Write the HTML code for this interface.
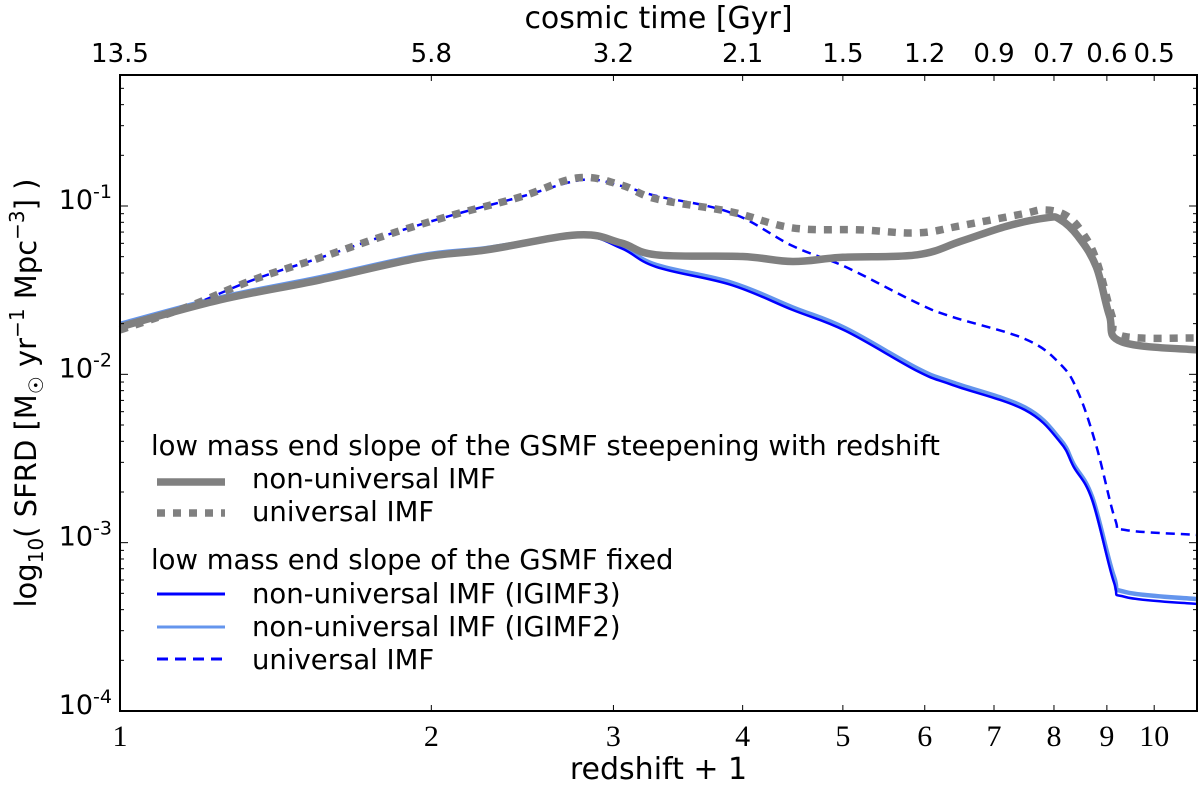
<!DOCTYPE html>
<html><head><meta charset="utf-8"><style>
body{margin:0;background:#fff}
svg{font-family:"DejaVu Sans","Liberation Sans",sans-serif}
</style></head><body>
<svg id="chart" width="1200" height="791">
<g id="plot"></g>
</svg>
<script>
const xVals1 = [1,1.249,1.561,1.95,2.26,2.77,3.05,3.3,4.0,4.47,5.0,5.9,6.5,7.2,7.87,8.11,8.44,8.79,9.05,9.3,11];
const grayNonUniv = [-1.718,-1.558,-1.439,-1.308,-1.261,-1.172,-1.219,-1.290,-1.300,-1.330,-1.305,-1.290,-1.210,-1.120,-1.070,-1.080,-1.180,-1.362,-1.650,-1.807,-1.855];
const xVals2 = [1,1.161,1.345,1.561,1.812,2.10,2.44,2.77,3.05,3.3,3.9,4.47,5.2,5.9,6.49,7.46,7.82,8.2,8.5,8.79,9.1,9.3,11];
const grayUniv = [-1.736,-1.600,-1.439,-1.308,-1.172,-1.053,-0.946,-0.833,-0.875,-0.958,-1.035,-1.130,-1.142,-1.160,-1.118,-1.047,-1.023,-1.053,-1.148,-1.320,-1.650,-1.772,-1.784];
const xVals3 = [1,1.249,1.561,1.95,2.26,2.77,3.05,3.3,3.9,4.47,5.03,5.9,6.38,7.5,8.11,8.36,8.71,9.14,9.38,11];
const blueIG3 = [-1.707,-1.550,-1.430,-1.300,-1.255,-1.178,-1.250,-1.362,-1.469,-1.617,-1.742,-1.980,-2.063,-2.212,-2.402,-2.550,-2.746,-3.233,-3.323,-3.364];
const blueIG2 = [-1.700,-1.543,-1.423,-1.294,-1.250,-1.174,-1.240,-1.350,-1.455,-1.602,-1.727,-1.965,-2.048,-2.197,-2.387,-2.535,-2.730,-3.200,-3.293,-3.335];
const xVals4 = [1,1.161,1.345,1.561,1.812,2.10,2.44,2.8,3.05,3.3,3.9,4.47,5.03,5.9,6.38,7.5,8.11,8.44,8.79,9.17,9.38,11];
const blueUniv = [-1.736,-1.600,-1.439,-1.308,-1.172,-1.053,-0.946,-0.845,-0.880,-0.940,-1.041,-1.237,-1.362,-1.576,-1.659,-1.790,-1.938,-2.105,-2.425,-2.865,-2.925,-2.954];
const xTicks = [1,2,3,4,5,6,7,8,9,10];
const yTicks = [-4,-3,-2,-1];
const topZ = [0,1,2,3,4,5,6,7,8,9];
const topLabels = ["13.5","5.8","3.2","2.1","1.5","1.2","0.9","0.7","0.6","0.5"];

const L=120,R=1197,T=75,B=711;
const xMin=0,xMax=Math.log10(11),yMin=-4,yMax=Math.log10(0.6);
const X=v=>L+(Math.log10(v)-xMin)/(xMax-xMin)*(R-L);
const Y=lg=>B-(lg-yMin)/(yMax-yMin)*(B-T);
const NS="http://www.w3.org/2000/svg";
const g=document.getElementById('plot');
function mk(tag,attrs,parent){const e=document.createElementNS(NS,tag);for(const k in attrs)e.setAttribute(k,attrs[k]);(parent||g).appendChild(e);return e;}
function txt(s,attrs){const e=mk('text',attrs);e.textContent=s;return e;}

function smoothPath(pts){
  let d='M'+pts[0][0].toFixed(1)+','+pts[0][1].toFixed(1);
  for(let i=0;i<pts.length-1;i++){
    const p0=pts[Math.max(0,i-1)],p1=pts[i],p2=pts[i+1],p3=pts[Math.min(pts.length-1,i+2)];
    const t=0.18;
    const c1=[p1[0]+(p2[0]-p0[0])*t,p1[1]+(p2[1]-p0[1])*t];
    const c2=[p2[0]-(p3[0]-p1[0])*t,p2[1]-(p3[1]-p1[1])*t];
    d+='C'+c1[0].toFixed(1)+','+c1[1].toFixed(1)+' '+c2[0].toFixed(1)+','+c2[1].toFixed(1)+' '+p2[0].toFixed(1)+','+p2[1].toFixed(1);
  }
  return d;
}
function line(xs,ys,stroke,w,dash,name){
  const pts=xs.map((x,i)=>[X(x),Y(ys[i])]);
  const p=mk('path',{d:smoothPath(pts),fill:'none',stroke:stroke,'stroke-width':w,'stroke-dasharray':dash||'none','stroke-linejoin':'round'});
  
  
}
line(xVals3,blueIG2,'#6495ed',4.5,null,'line-igimf2');
line(xVals3,blueIG3,'#0000ff',2.5,null,'line-igimf3');
line(xVals4,blueUniv,'#0000ff',2.5,'9,6','line-blue-universal');
line(xVals1,grayNonUniv,'#808080',7.5,null,'line-gray-nonuniversal');
line(xVals2,grayUniv,'#808080',7.5,'8,8','line-gray-universal');

const f=mk('rect',{x:L,y:T,width:R-L,height:B-T,fill:'none',stroke:'#000','stroke-width':2});



xTicks.forEach(v=>{
  const x=X(v);
  mk('line',{x1:x,x2:x,y1:B,y2:B-6,stroke:'#000','stroke-width':1});
  const t=txt(String(v),{x:x,y:B+35,'text-anchor':'middle','font-size':30,'font-family':'"Liberation Serif",serif'});
  
  
});
topZ.forEach((z,i)=>{
  const x=X(z+1);
  mk('line',{x1:x,x2:x,y1:T,y2:T+6,stroke:'#000','stroke-width':1});
  const t=txt(topLabels[i],{x:x,y:T-13,'text-anchor':'middle','font-size':26});
  
  
});
yTicks.forEach(v=>{
  const y=Y(v);
  mk('line',{x1:L,x2:L+8,y1:y,y2:y,stroke:'#000','stroke-width':1});
  mk('line',{x1:R,x2:R-8,y1:y,y2:y,stroke:'#000','stroke-width':1});
  for(let k=2;k<10;k++){const yy=Y(v+Math.log10(k));if(yy<T)break;
    mk('line',{x1:L,x2:L+4,y1:yy,y2:yy,stroke:'#000','stroke-width':1});
    mk('line',{x1:R,x2:R-4,y1:yy,y2:yy,stroke:'#000','stroke-width':1});}
  const t=mk('text',{x:L-8,y:y+3,'text-anchor':'end','font-size':27});
  t.innerHTML='10<tspan dy="-11" font-size="19">'+v+'</tspan>';
  
  
});
let t=txt('redshift + 1',{x:(L+R)/2,y:779,'text-anchor':'middle','font-size':30});


t=txt('cosmic time [Gyr]',{x:(L+R)/2,y:28,'text-anchor':'middle','font-size':30});


t=mk('text',{x:0,y:0,'text-anchor':'middle','font-size':29,transform:'translate(36,393) rotate(-90)'});
t.innerHTML='log<tspan dy="7" font-size="20">10</tspan><tspan dy="-7">( SFRD [M</tspan><tspan dy="7" font-size="20">☉</tspan><tspan dy="-7"> yr</tspan><tspan dy="-12" font-size="20">−1</tspan><tspan dy="12"> Mpc</tspan><tspan dy="-12" font-size="20">−3</tspan><tspan dy="12">] )</tspan>';



const legend=[
 {type:'title',text:'low mass end slope of the GSMF steepening with redshift',y:455},
 {type:'entry',text:'non-universal IMF',y:488,ly:482,c:'#808080',w:7.5,d:null},
 {type:'entry',text:'universal IMF',y:521,ly:513,c:'#808080',w:7.5,d:'8,8'},
 {type:'title',text:'low mass end slope of the GSMF fixed',y:569},
 {type:'entry',text:'non-universal IMF (IGIMF3)',y:603,ly:594,c:'#0000ff',w:3,d:null},
 {type:'entry',text:'non-universal IMF (IGIMF2)',y:636,ly:627,c:'#6495ed',w:3,d:null},
 {type:'entry',text:'universal IMF',y:669,ly:659,c:'#0000ff',w:3,d:'11,7'}
];
legend.forEach(e=>{
  if(e.type==='title'){
    const tt=txt(e.text,{x:151,y:e.y,'font-size':27.5});
    
    
  } else {
    mk('line',{x1:157,x2:225,y1:e.ly,y2:e.ly,stroke:e.c,'stroke-width':e.w,'stroke-dasharray':e.d||'none'});
    const tt=txt(e.text,{x:252,y:e.y,'font-size':27.5});
    
    
  }
});
</script>
</body></html>
